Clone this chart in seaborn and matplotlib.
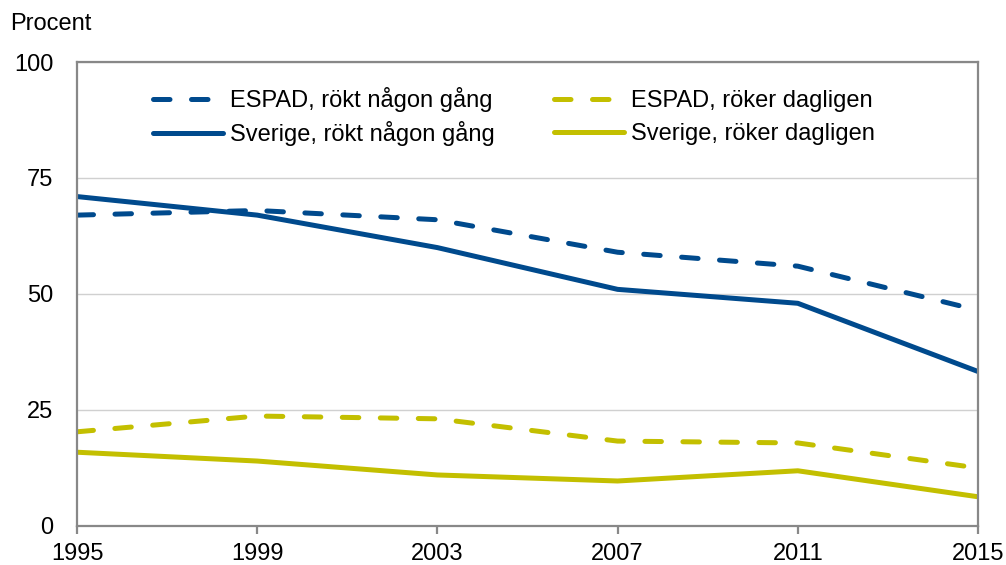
import matplotlib
matplotlib.use("Agg")
import matplotlib.pyplot as plt
import seaborn as sns
import pandas as pd

years = [1995, 1999, 2003, 2007, 2011, 2015]
espad_rokt = [67.0, 68.0, 66.0, 59.0, 56.0, 46.5]
sverige_rokt = [71.0, 67.0, 60.0, 51.0, 48.0, 33.3]
espad_daglig = [20.3, 23.7, 23.1, 18.3, 17.9, 12.5]
sverige_daglig = [15.9, 14.0, 11.0, 9.7, 11.9, 6.3]

labels = ["ESPAD, rökt någon gång", "Sverige, rökt någon gång",
          "ESPAD, röker dagligen", "Sverige, röker dagligen"]
series = [espad_rokt, sverige_rokt, espad_daglig, sverige_daglig]
yticks = [0, 25, 50, 75, 100]

BLUE = "#004A8D"
YEL = "#C3BF00"
DASH = (0, (3.3, 4.3))
styles = [(BLUE, DASH), (BLUE, "-"), (YEL, DASH), (YEL, "-")]

sns.set_theme(style="white")
plt.rcParams['font.family'] = ['Liberation Sans', 'DejaVu Sans']
FS = 17

fig = plt.figure(figsize=(10.06, 5.65), dpi=100)
ax = fig.add_axes([77/1006, 1-526/565, 901/1006, 464/565])

for lab, vals, (col, ls) in zip(labels, series, styles):
    df = pd.DataFrame({"year": years, "value": vals})
    sns.lineplot(data=df, x="year", y="value", ax=ax, color=col, linewidth=3.6,
                 label=lab, linestyle=ls, dash_capstyle="round",
                 solid_capstyle="round")

ax.set_xlim(1995, 2015)
ax.set_ylim(0, 100)
ax.set_xticks(years)
ax.set_yticks(yticks)
ax.set_xlabel("")
ax.set_ylabel("")
ax.yaxis.grid(True, color="#D0D0D0", linewidth=1)
ax.xaxis.grid(False)
for s in ax.spines.values():
    s.set_color("#888888")
    s.set_linewidth(1.6)
ax.tick_params(axis="x", which="both", bottom=True, length=6, width=1.6, color="#888888",
               labelsize=FS, pad=6, labelcolor="black")
ax.tick_params(axis="y", left=False, length=0, labelsize=FS, pad=17, labelcolor="black")

fig.text(10/1006, 1-24/565, "Procent", fontsize=FS, va="center", ha="left", color="black")

handles, labs = ax.get_legend_handles_labels()
common = dict(loc="upper left", bbox_transform=fig.transFigure, frameon=False,
              fontsize=FS, handlelength=2.95, handletextpad=0.3,
              borderpad=0, borderaxespad=0, labelcolor="black")
leg1 = ax.legend(handles[0:2], labs[0:2], bbox_to_anchor=(153/1006, 1-87/565),
                 labelspacing=0.4, **common)
ax.add_artist(leg1)
leg2 = ax.legend(handles[2:4], labs[2:4], bbox_to_anchor=(554/1006, 1-90/565),
                 labelspacing=0.48, **common)

fig.savefig("out.png", dpi=100)
